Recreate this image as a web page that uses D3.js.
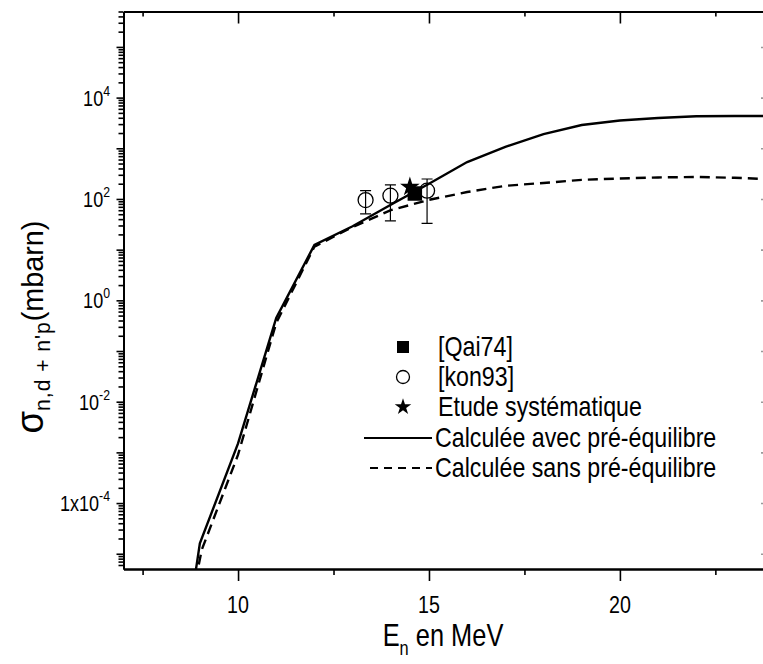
<!DOCTYPE html>
<html><head><meta charset="utf-8">
<script src="https://cdn.jsdelivr.net/npm/d3@7"></script>
<style>
body{margin:0;background:#fff}
svg{display:block;font-family:"Liberation Sans",Arial,sans-serif}
</style></head><body>
<svg id="chart" width="763" height="664"></svg>
<script>
// computed curves (with / without pre-equilibrium)
const energySolid = [8.88, 9, 10, 11, 12, 13, 14, 15, 16, 17, 18, 19, 20, 21, 22, 23, 23.8];
const sigmaSolid = [4e-6, 1.6e-5, 1.5e-3, 0.45, 12.4, 29, 77, 200, 535, 1070, 1900, 2880, 3540, 3970, 4300, 4350, 4350];
const energyDashed = [8.89, 9.05, 10, 11, 12, 13, 14, 15, 16, 17, 18, 19, 20, 21, 22, 23, 23.8];
const sigmaDashed = [3e-6, 1.2e-5, 9e-4, 0.36, 11.5, 28, 60, 96, 137, 182, 207, 238, 254, 266, 272, 262, 248];

// experimental points
const kon93E = [13.34, 13.99, 14.95];
const kon93S = [95, 116, 146];
const kon93Hi = [146, 189, 248];
const kon93Lo = [51, 37, 33];
const qai74E = [14.63];
const qai74S = [128];
const etudeE = [14.5];
const etudeS = [173];

const xMajor = [10, 15, 20];
const xMinor = [7.5, 12.5, 17.5, 22.5];
const yLabelled = [1e4, 1e2, 1, 1e-2, 1e-4];
const yLabelText = [["10", "4"], ["10", "2"], ["10", "0"], ["10", "-2"], ["1x10", "-4"]];
const legendLabels = ["[Qai74]", "[kon93]", "Etude systématique", "Calculée avec pré-équilibre", "Calculée sans pré-équilibre"];

const svg = d3.select('#chart');
const plotLeft = 123.5, plotRight = 765, plotTop = 11.5, plotBottom = 569;
const squeeze = 0.82; // narrow lettering of the original

const x = d3.scaleLinear().domain([7, 23.8]).range([plotLeft, plotRight]);
const y = d3.scaleLog().domain([5e-6, 5e5]).range([plotBottom, plotTop]);

const decades = d3.range(-5, 6).map((p) => Math.pow(10, p));
const minorY = [];
for (let p = -6; p <= 5; p++) {
  for (let m = 2; m <= 9; m++) {
    const v = m * Math.pow(10, p);
    if (v >= 5e-6 && v <= 5e5) minorY.push(v);
  }
}

svg.append('defs').append('clipPath').attr('id', 'plot')
  .append('rect').attr('x', plotLeft).attr('y', plotTop)
  .attr('width', plotRight - plotLeft).attr('height', plotBottom - plotTop);

function styleAxis(g) {
  g.selectAll('.domain').attr('stroke-width', 2);
  g.selectAll('.tick line').attr('stroke-width', 1.6);
}

// axes
svg.append('g').attr('transform', `translate(0,${plotBottom})`)
  .call(d3.axisBottom(x).tickValues(xMajor).tickSize(12).tickSizeOuter(0).tickFormat(''))
  .call(styleAxis);
svg.append('g').attr('transform', `translate(0,${plotBottom})`)
  .call(d3.axisBottom(x).tickValues(xMinor).tickSize(6).tickSizeOuter(0).tickFormat(''))
  .call(styleAxis);
svg.append('g').attr('transform', `translate(0,${plotTop})`)
  .call(d3.axisTop(x).tickValues(xMajor).tickSize(-12).tickSizeOuter(0).tickFormat(''))
  .call(styleAxis);
svg.append('g').attr('transform', `translate(0,${plotTop})`)
  .call(d3.axisTop(x).tickValues(xMinor).tickSize(-5).tickSizeOuter(0).tickFormat(''))
  .call(styleAxis);
svg.append('g').attr('transform', `translate(${plotLeft},0)`)
  .call(d3.axisLeft(y).tickValues(decades).tickSize(7).tickSizeOuter(0).tickFormat(''))
  .call(styleAxis);
svg.append('g').attr('transform', `translate(${plotLeft},0)`)
  .call(d3.axisLeft(y).tickValues(minorY).tickSize(5).tickSizeOuter(0).tickFormat(''))
  .call(styleAxis);
svg.append('g').attr('transform', `translate(${plotRight},0)`)
  .call(d3.axisRight(y).tickValues(decades).tickSize(-4).tickSizeOuter(0).tickFormat(''))
  .call(styleAxis)
  .selectAll('line').attr('stroke', '#999');

// tick labels
xMajor.forEach((v) => {
  svg.append('text').attr('transform', `translate(${x(v)},613) scale(${squeeze},1)`)
    .attr('text-anchor', 'middle').attr('font-size', 24).text(v);
});
yLabelled.forEach((v, i) => {
  const t = svg.append('text').attr('transform', `translate(110,${y(v) + 8}) scale(${squeeze},1)`)
    .attr('text-anchor', 'end').attr('font-size', 22);
  t.append('tspan').text(yLabelText[i][0]);
  t.append('tspan').attr('font-size', 15).attr('dy', -10).text(yLabelText[i][1]);
});

// axis titles
const xt = svg.append('text').attr('transform', `translate(443,646) scale(${squeeze},1)`)
  .attr('text-anchor', 'middle').attr('font-size', 31);
xt.append('tspan').text('E');
xt.append('tspan').attr('font-size', 20).attr('dy', 9).text('n');
xt.append('tspan').attr('dy', -9).text(' en MeV');

const yt = svg.append('text').attr('transform', `translate(43,327) rotate(-90) scale(0.96,1)`)
  .attr('text-anchor', 'middle').attr('font-size', 30);
yt.append('tspan').attr('font-size', 38).text('σ');
yt.append('tspan').attr('font-size', 22).attr('dy', 7).attr('letter-spacing', 1).text('n,d + n\'p');
yt.append('tspan').attr('dy', -7).text('(mbarn)');

// curves
const plot = svg.append('g').attr('clip-path', 'url(#plot)');
const line = d3.line().x((d) => x(d[0])).y((d) => y(d[1]));

plot.append('path')
  .datum(energyDashed.map((e, i) => [e, sigmaDashed[i]]))
  .attr('d', line).attr('fill', 'none').attr('stroke', '#000')
  .attr('stroke-width', 2.4).attr('stroke-dasharray', '10,6');
plot.append('path')
  .datum(energySolid.map((e, i) => [e, sigmaSolid[i]]))
  .attr('d', line).attr('fill', 'none').attr('stroke', '#000')
  .attr('stroke-width', 2.4);

// kon93 with error bars
kon93E.forEach((e, i) => {
  const cx = x(e);
  plot.append('line').attr('x1', cx).attr('x2', cx)
    .attr('y1', y(kon93Lo[i])).attr('y2', y(kon93Hi[i]))
    .attr('stroke', '#000').attr('stroke-width', 1.2);
  [kon93Lo[i], kon93Hi[i]].forEach((v) => {
    plot.append('line').attr('x1', cx - 5.5).attr('x2', cx + 5.5)
      .attr('y1', y(v)).attr('y2', y(v))
      .attr('stroke', '#000').attr('stroke-width', 1.2);
  });
  plot.append('circle').attr('cx', cx).attr('cy', y(kon93S[i])).attr('r', 7.5)
    .attr('fill', 'none').attr('stroke', '#000').attr('stroke-width', 1.3);
});

etudeE.forEach((e, i) => {
  plot.append('path').attr('d', d3.symbol(d3.symbolStar, 120)())
    .attr('transform', `translate(${x(e)},${y(etudeS[i])})`).attr('fill', '#000');
});
qai74E.forEach((e, i) => {
  plot.append('path').attr('d', d3.symbol(d3.symbolSquare, 210)())
    .attr('transform', `translate(${x(e)},${y(qai74S[i])})`).attr('fill', '#000');
});

// legend
const rows = [347, 377, 407, 438, 468];
const lg = svg.append('g');
lg.append('path').attr('d', d3.symbol(d3.symbolSquare, 144)()).attr('transform', `translate(403,${rows[0]})`);
lg.append('circle').attr('cx', 403).attr('cy', rows[1]).attr('r', 6.5)
  .attr('fill', 'none').attr('stroke', '#000').attr('stroke-width', 1.3);
lg.append('path').attr('d', d3.symbol(d3.symbolStar, 85)()).attr('transform', `translate(403,${rows[2]})`);
lg.append('line').attr('x1', 364).attr('x2', 432).attr('y1', rows[3]).attr('y2', rows[3])
  .attr('stroke', '#000').attr('stroke-width', 2);
lg.append('line').attr('x1', 370).attr('x2', 432).attr('y1', rows[4]).attr('y2', rows[4])
  .attr('stroke', '#000').attr('stroke-width', 2).attr('stroke-dasharray', '8,6');
legendLabels.forEach((s, i) => {
  lg.append('text').attr('transform', `translate(${i < 3 ? 438 : 435},${rows[i] + 9}) scale(0.86,1)`)
    .attr('font-size', 27).text(s);
});
</script>
</body></html>
